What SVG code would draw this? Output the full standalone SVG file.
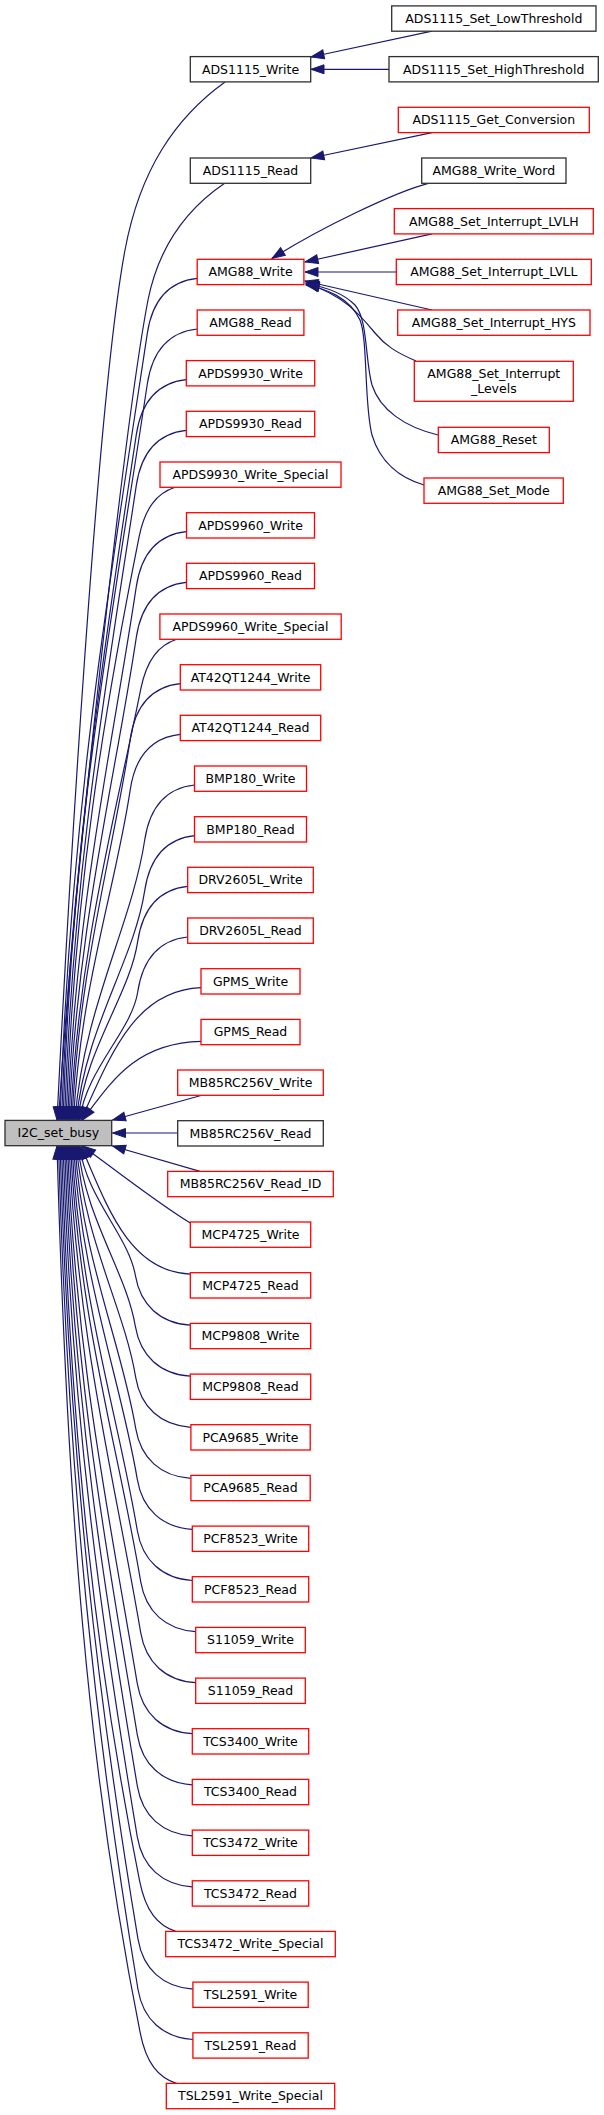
<svg xmlns="http://www.w3.org/2000/svg" width="604" height="2115" viewBox="0 0 604 2115">
<style>
.node rect{fill:#ffffff;stroke:#303030;stroke-width:1.3}
.node.red rect{stroke:#ff0000}
.node.main rect{fill:#bfbfbf;stroke:#303030}
.node text{font-family:"DejaVu Sans","Liberation Sans",sans-serif;font-size:12.5px;fill:#000000;text-anchor:middle}
#edges path{fill:none;stroke:#191970;stroke-width:1.2;marker-end:url(#ah)}
</style>
<defs>
<marker id="ah" markerUnits="userSpaceOnUse" markerWidth="14" markerHeight="10" refX="13" refY="4.5" orient="auto" overflow="visible">
<path d="M0,0 L13,4.5 L0,9 z" fill="#191970" stroke="#191970" stroke-width="1"/>
</marker>
</defs>
<rect x="0" y="0" width="604" height="2115" fill="#ffffff"/>
<g id="edges">
<path d="M432,31.2 L311,57"/>
<path d="M389,69.3 L311,69.3"/>
<path d="M432,132.6 L311,158"/>
<path d="M428.3,183.3 C395,192 320,228 272,258.5"/>
<path d="M432,233.9 L305,262"/>
<path d="M396.3,272 L305,272"/>
<path d="M432,310 L305,281"/>
<path d="M416,361 C395,352 385,345 375,333 C360,315 345,296 306,283"/>
<path d="M438,435 C405,427 380,410 372,385 C365,360 368,320 355,305 C340,290 320,286 306,284"/>
<path d="M424,485 C400,478 380,462 372,435 C364,405 368,340 360,320 C350,298 325,288 306,285"/>
<path d="M225,82 C175,118 140,170 125,250 C97,400 68,900 57,1120"/>
<path d="M225,183 C185,210 158,250 148,300 C125,420 72,900 58.5,1120"/>
<path d="M197.3,278.3 C169.3,281.3 152.3,300.3 147.3,333.3 C111.9,569.3 70.5,805.3 60,1120"/>
<path d="M197.3,329 C169.3,332 152.3,351 147.3,384 C114.2,604.8 71.8,825.6 61.5,1120"/>
<path d="M186.3,379.6 C158.3,382.6 141.3,401.6 136.3,434.6 C105.5,640.2 71.8,845.8 63,1120"/>
<path d="M186.3,430.3 C158.3,433.3 141.3,452.3 136.3,485.3 C107.7,675.7 73.1,866.1 64.5,1120"/>
<path d="M175,487.3 C157,493.3 145,507.3 139,537.3 C104,712.1 74.8,886.9 66,1120"/>
<path d="M186.3,531.6 C158.3,534.6 141.3,553.6 136.3,586.6 C112.3,746.6 75.8,906.6 67.5,1120"/>
<path d="M186.3,582.3 C158.3,585.3 141.3,604.3 136.3,637.3 C114.6,782.1 77.1,926.9 69,1120"/>
<path d="M176.7,639.3 C158.7,645.3 146.7,659.3 140.7,689.3 C114.9,818.5 78.9,947.7 70.5,1120"/>
<path d="M180.3,683.7 C152.3,686.7 135.3,705.7 130.3,738.7 C113.1,853.1 79,967.5 72,1120"/>
<path d="M180.3,734.3 C152.3,737.3 135.3,756.3 130.3,789.3 C115.4,888.5 80.3,987.7 73.5,1120"/>
<path d="M194.7,785 C166.7,788 149.7,807 144.7,840 C132.1,924 83.4,1008 75,1120"/>
<path d="M194.7,835.7 C166.7,838.7 149.7,857.7 144.7,890.7 C134.4,959.5 84.7,1028.3 76.5,1120"/>
<path d="M187.7,886.3 C159.7,889.3 142.7,908.3 137.7,941.3 C129.7,994.9 85.2,1048.5 78,1120"/>
<path d="M187.7,937 C159.7,940 142.7,959 137.7,992 C131.9,1030.4 86.5,1068.8 79.5,1120"/>
<path d="M201,987.7 C135,990.3 111,1053.8 81,1120"/>
<path d="M201,1041.4 C135.8,1043 112.1,1080.7 82.5,1120"/>
<path d="M201,1095.5 L112.5,1120"/>
<path d="M177.7,1133 L112.5,1133"/>
<path d="M200,1171.4 L112.5,1146"/>
<path d="M190.3,1223 C160,1205 110,1166 82.5,1146"/>
<path d="M190.3,1274.1 C130.2,1271.5 108.3,1210 81,1146"/>
<path d="M190.3,1325.2 C160.3,1323.2 140.3,1305.2 135.3,1275.2 C128.8,1236.4 86.2,1197.7 79.5,1146"/>
<path d="M190.3,1376.2 C160.3,1374.2 140.3,1356.2 135.3,1326.2 C126.3,1272.1 84.9,1218.1 78,1146"/>
<path d="M190.7,1427.3 C160.7,1425.3 140.7,1407.3 135.7,1377.3 C124.1,1307.9 83.6,1238.5 76.5,1146"/>
<path d="M190.7,1478.4 C160.7,1476.4 140.7,1458.4 135.7,1428.4 C121.6,1343.7 82.3,1259 75,1146"/>
<path d="M192.3,1529.4 C162.3,1527.4 142.3,1509.4 137.3,1479.4 C120.6,1379.4 81.2,1279.4 73.5,1146"/>
<path d="M192.3,1580.5 C162.3,1578.5 142.3,1560.5 137.3,1530.5 C118,1415.1 79.8,1299.8 72,1146"/>
<path d="M195.7,1631.6 C165.7,1629.6 145.7,1611.6 140.7,1581.6 C118.9,1450.9 78.9,1320.2 70.5,1146"/>
<path d="M195.7,1682.7 C165.7,1680.7 145.7,1662.7 140.7,1632.7 C116.3,1486.7 77.6,1340.7 69,1146"/>
<path d="M192.3,1733.7 C162.3,1731.7 142.3,1713.7 137.3,1683.7 C110.4,1522.4 75.9,1361.1 67.5,1146"/>
<path d="M192.3,1784.8 C162.3,1782.8 142.3,1764.8 137.3,1734.8 C107.8,1558.2 74.6,1381.5 66,1146"/>
<path d="M192.3,1835.9 C162.3,1833.9 142.3,1815.9 137.3,1785.9 C105.2,1593.9 73.2,1402 64.5,1146"/>
<path d="M192.3,1886.9 C162.3,1884.9 142.3,1866.9 137.3,1836.9 C102.7,1629.6 71.9,1422.4 63,1146"/>
<path d="M175.7,1931.4 C157.7,1925.4 145.7,1911.4 139.7,1881.4 C95.6,1660.8 70.9,1440.2 61.5,1146"/>
<path d="M193,1989.1 C163,1987.1 143,1969.1 138,1939.1 C98.3,1701.2 69.4,1463.2 60,1146"/>
<path d="M193,2039.5 C163,2037.5 143,2019.5 138,1989.5 C95.7,1736.5 68,1483.4 58.5,1146"/>
<path d="M176.3,2083.4 C158.3,2077.4 146.3,2063.4 140.3,2033.4 C87.1,1767.2 67,1501 57,1146"/>
</g>
<g id="I2C_set_busy" class="node main"><rect x="5" y="1120.4" width="106.7" height="25.3"/><text x="58.35" y="1137.4">I2C_set_busy</text></g>
<g id="ADS1115_Set_LowThreshold" class="node"><rect x="391.7" y="5.9" width="204.3" height="25.3"/><text x="493.8" y="22.9">ADS1115_Set_LowThreshold</text></g>
<g id="ADS1115_Write" class="node"><rect x="190.3" y="56.6" width="120.4" height="25.3"/><text x="250.5" y="73.6">ADS1115_Write</text></g>
<g id="ADS1115_Set_HighThreshold" class="node"><rect x="389" y="56.6" width="209.3" height="25.3"/><text x="493.7" y="73.6">ADS1115_Set_HighThreshold</text></g>
<g id="ADS1115_Get_Conversion" class="node red"><rect x="398.3" y="107.3" width="191" height="25.3"/><text x="493.8" y="124.3">ADS1115_Get_Conversion</text></g>
<g id="ADS1115_Read" class="node"><rect x="190.3" y="158" width="120.4" height="25.3"/><text x="250.5" y="175">ADS1115_Read</text></g>
<g id="AMG88_Write_Word" class="node"><rect x="421.7" y="158" width="144.3" height="25.3"/><text x="493.8" y="175">AMG88_Write_Word</text></g>
<g id="AMG88_Set_Interrupt_LVLH" class="node red"><rect x="394.3" y="208.6" width="199" height="25.3"/><text x="493.8" y="225.6">AMG88_Set_Interrupt_LVLH</text></g>
<g id="AMG88_Set_Interrupt_LVLL" class="node red"><rect x="396.3" y="259.3" width="195" height="25.3"/><text x="493.8" y="276.3">AMG88_Set_Interrupt_LVLL</text></g>
<g id="AMG88_Set_Interrupt_HYS" class="node red"><rect x="397.7" y="310" width="192.3" height="25.3"/><text x="493.8" y="327">AMG88_Set_Interrupt_HYS</text></g>
<g id="AMG88_Set_Interrupt_Levels" class="node red"><rect x="414.3" y="361.3" width="159" height="40"/><text x="493.8" y="377.5">AMG88_Set_Interrupt</text><text x="493.8" y="392.5">_Levels</text></g>
<g id="AMG88_Reset" class="node red"><rect x="438.3" y="427.3" width="111" height="25.3"/><text x="493.8" y="444.3">AMG88_Reset</text></g>
<g id="AMG88_Set_Mode" class="node red"><rect x="424" y="478" width="139.3" height="25.3"/><text x="493.7" y="495">AMG88_Set_Mode</text></g>
<g id="AMG88_Write" class="node red"><rect x="197.2" y="259.3" width="106.7" height="25.3"/><text x="250.5" y="276.3">AMG88_Write</text></g>
<g id="AMG88_Read" class="node red"><rect x="197.2" y="310" width="106.7" height="25.3"/><text x="250.5" y="327">AMG88_Read</text></g>
<g id="APDS9930_Write" class="node red"><rect x="186.3" y="360.6" width="128.4" height="25.3"/><text x="250.5" y="377.6">APDS9930_Write</text></g>
<g id="APDS9930_Read" class="node red"><rect x="186.3" y="411.3" width="128.4" height="25.3"/><text x="250.5" y="428.3">APDS9930_Read</text></g>
<g id="APDS9930_Write_Special" class="node red"><rect x="160" y="462" width="181" height="25.3"/><text x="250.5" y="479">APDS9930_Write_Special</text></g>
<g id="APDS9960_Write" class="node red"><rect x="186.5" y="512.7" width="128" height="25.3"/><text x="250.5" y="529.7">APDS9960_Write</text></g>
<g id="APDS9960_Read" class="node red"><rect x="186.5" y="563.3" width="128" height="25.3"/><text x="250.5" y="580.3">APDS9960_Read</text></g>
<g id="APDS9960_Write_Special" class="node red"><rect x="159.9" y="614" width="181.3" height="25.3"/><text x="250.5" y="631">APDS9960_Write_Special</text></g>
<g id="AT42QT1244_Write" class="node red"><rect x="180.3" y="664.7" width="140.4" height="25.3"/><text x="250.5" y="681.7">AT42QT1244_Write</text></g>
<g id="AT42QT1244_Read" class="node red"><rect x="180.3" y="715.3" width="140.4" height="25.3"/><text x="250.5" y="732.3">AT42QT1244_Read</text></g>
<g id="BMP180_Write" class="node red"><rect x="194.5" y="766" width="112" height="25.3"/><text x="250.5" y="783">BMP180_Write</text></g>
<g id="BMP180_Read" class="node red"><rect x="194.5" y="816.7" width="112" height="25.3"/><text x="250.5" y="833.7">BMP180_Read</text></g>
<g id="DRV2605L_Write" class="node red"><rect x="187.7" y="867.3" width="125.6" height="25.3"/><text x="250.5" y="884.3">DRV2605L_Write</text></g>
<g id="DRV2605L_Read" class="node red"><rect x="187.7" y="918" width="125.6" height="25.3"/><text x="250.5" y="935">DRV2605L_Read</text></g>
<g id="GPMS_Write" class="node red"><rect x="201" y="968.7" width="99" height="25.3"/><text x="250.5" y="985.7">GPMS_Write</text></g>
<g id="GPMS_Read" class="node red"><rect x="201" y="1019.4" width="99" height="25.3"/><text x="250.5" y="1036.4">GPMS_Read</text></g>
<g id="MB85RC256V_Write" class="node red"><rect x="177.7" y="1070" width="145.6" height="25.3"/><text x="250.5" y="1087">MB85RC256V_Write</text></g>
<g id="MB85RC256V_Read" class="node"><rect x="177.7" y="1120.7" width="145.6" height="25.3"/><text x="250.5" y="1137.7">MB85RC256V_Read</text></g>
<g id="MB85RC256V_Read_ID" class="node red"><rect x="167.7" y="1171.4" width="165.6" height="25.3"/><text x="250.5" y="1188.4">MB85RC256V_Read_ID</text></g>
<g id="MCP4725_Write" class="node red"><rect x="190.3" y="1222" width="120.4" height="25.3"/><text x="250.5" y="1239">MCP4725_Write</text></g>
<g id="MCP4725_Read" class="node red"><rect x="190.3" y="1272.7" width="120.4" height="25.3"/><text x="250.5" y="1289.7">MCP4725_Read</text></g>
<g id="MCP9808_Write" class="node red"><rect x="190.3" y="1323.4" width="120.4" height="25.3"/><text x="250.5" y="1340.4">MCP9808_Write</text></g>
<g id="MCP9808_Read" class="node red"><rect x="190.3" y="1374.1" width="120.4" height="25.3"/><text x="250.5" y="1391.1">MCP9808_Read</text></g>
<g id="PCA9685_Write" class="node red"><rect x="190.9" y="1424.7" width="119.3" height="25.3"/><text x="250.5" y="1441.7">PCA9685_Write</text></g>
<g id="PCA9685_Read" class="node red"><rect x="190.9" y="1475.4" width="119.3" height="25.3"/><text x="250.5" y="1492.4">PCA9685_Read</text></g>
<g id="PCF8523_Write" class="node red"><rect x="192.3" y="1526.1" width="116.4" height="25.3"/><text x="250.5" y="1543.1">PCF8523_Write</text></g>
<g id="PCF8523_Read" class="node red"><rect x="192.3" y="1576.7" width="116.4" height="25.3"/><text x="250.5" y="1593.7">PCF8523_Read</text></g>
<g id="S11059_Write" class="node red"><rect x="195.7" y="1627.4" width="109.6" height="25.3"/><text x="250.5" y="1644.4">S11059_Write</text></g>
<g id="S11059_Read" class="node red"><rect x="195.7" y="1678.1" width="109.6" height="25.3"/><text x="250.5" y="1695.1">S11059_Read</text></g>
<g id="TCS3400_Write" class="node red"><rect x="192.3" y="1728.7" width="116.4" height="25.3"/><text x="250.5" y="1745.7">TCS3400_Write</text></g>
<g id="TCS3400_Read" class="node red"><rect x="192.3" y="1779.4" width="116.4" height="25.3"/><text x="250.5" y="1796.4">TCS3400_Read</text></g>
<g id="TCS3472_Write" class="node red"><rect x="192.3" y="1830.1" width="116.4" height="25.3"/><text x="250.5" y="1847.1">TCS3472_Write</text></g>
<g id="TCS3472_Read" class="node red"><rect x="192.3" y="1880.8" width="116.4" height="25.3"/><text x="250.5" y="1897.8">TCS3472_Read</text></g>
<g id="TCS3472_Write_Special" class="node red"><rect x="165.7" y="1931.4" width="169.6" height="25.3"/><text x="250.5" y="1948.4">TCS3472_Write_Special</text></g>
<g id="TSL2591_Write" class="node red"><rect x="192.9" y="1982.1" width="115.3" height="25.3"/><text x="250.5" y="1999.1">TSL2591_Write</text></g>
<g id="TSL2591_Read" class="node red"><rect x="192.9" y="2032.8" width="115.3" height="25.3"/><text x="250.5" y="2049.8">TSL2591_Read</text></g>
<g id="TSL2591_Write_Special" class="node red"><rect x="166.3" y="2083.4" width="168.4" height="25.3"/><text x="250.5" y="2100.4">TSL2591_Write_Special</text></g>
</svg>
